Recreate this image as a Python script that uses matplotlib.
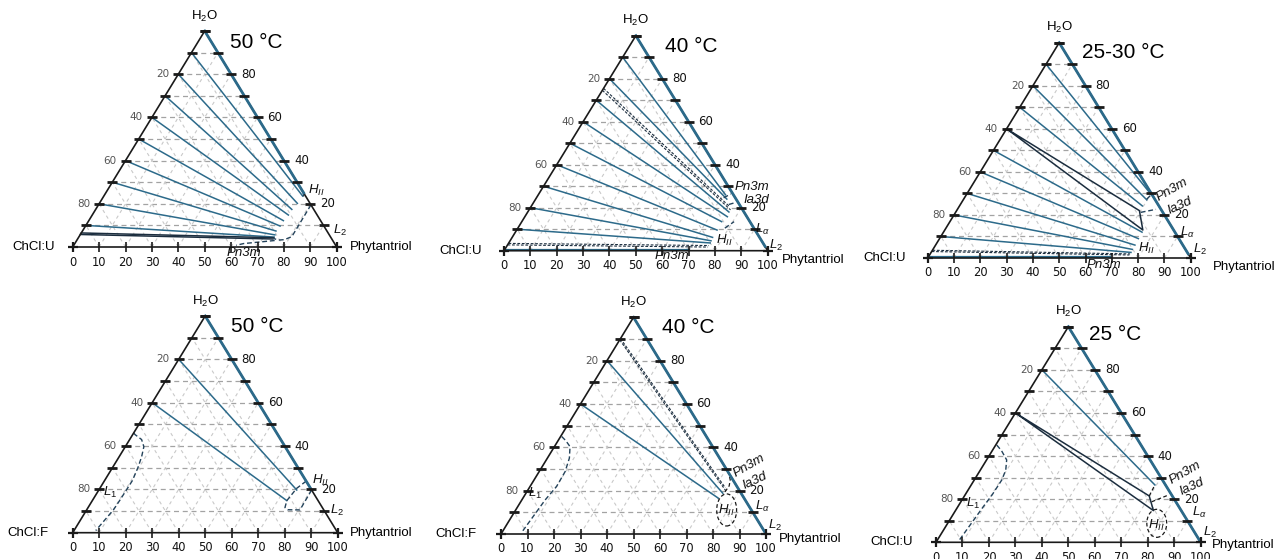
import matplotlib
matplotlib.use("Agg")
import matplotlib.pyplot as plt
from matplotlib.patches import Ellipse

plt.rcParams['mathtext.fontset'] = 'custom'
plt.rcParams['mathtext.rm'] = 'Liberation Sans'
plt.rcParams['mathtext.it'] = 'Liberation Sans:italic'
plt.rcParams['font.family'] = ['Liberation Sans', 'DejaVu Sans']

FIG_W, FIG_H = 1277, 559

# ---------------- data ----------------
grid_values = [10, 20, 30, 40, 50, 60, 70, 80, 90]
bottom_ticks = [0, 10, 20, 30, 40, 50, 60, 70, 80, 90, 100]
side_labels = [20, 40, 60, 80]

titles = ["50 °C", "40 °C", "25-30 °C", "50 °C", "40 °C", "25 °C"]
solvents = ["ChCl:U", "ChCl:U", "ChCl:U", "ChCl:F", "ChCl:F", "ChCl:U"]
top_label = "H$_2$O"
right_label = "Phytantriol"

# water content (%) down to which the water/phytantriol edge is a tie line
binary_edge_end_w = [25, 2, 2, 20, 1, 1]
# phytantriol (%) reached by the solvent/phytantriol tie line on the bottom edge
bottom_edge_end_p = [None, 70, 69, None, None, None]

# Panel A: ChCl:U, 50 °C
a_tie_start_w = [90, 80, 70, 60, 50, 40, 30, 20, 10]
a_tie_end_p = [75.3, 75.0, 74.3, 74.3, 73.7, 73.7, 73.3, 73.8, 74.0]
a_tie_end_w = [23.6, 20.2, 17.4, 14.8, 12.2, 9.7, 7.4, 5.6, 4.6]
a_dark_start_w = [6.5, 5.8]
a_dark_end_p = [74.0, 74.0]
a_dark_end_w = [4.3, 3.7]
a_hii_top_p = [75.3, 74.2]
a_hii_top_w = [23.6, 25.8]
a_hii_p = [80.5, 80.6, 78.5, 76.3, 74.0]
a_hii_w = [19.5, 4.8, 3.4, 3.2, 4.0]
a_cub_p = [75.0, 64.0, 61.5]
a_cub_w = [3.0, 1.6, 0.8]

# Panel B: ChCl:U, 40 °C
b_tie_start_w = [90, 80, 70, 60, 50, 40, 30, 20, 10]
b_tie_end_p = [71.0, 72.5, 76.3, 76.8, 75.8, 76.0, 76.0, 76.2, 76.4]
b_tie_end_w = [26.0, 24.0, 18.0, 15.8, 13.5, 9.6, 6.2, 4.6, 3.6]
b_dash_start_w = [75.5, 74.6, 3.4, 2.7]
b_dash_end_p = [75.3, 76.4, 76.5, 76.5]
b_dash_end_w = [20.5, 19.0, 2.4, 1.7]
b_bnd1_p = [71.0, 72.8]
b_bnd1_w = [24.6, 26.4]
b_bnd2_p = [74.5, 76.6]
b_bnd2_w = [21.5, 22.4]
b_bnd3_p = [78.5, 80.5]
b_bnd3_w = [10.5, 13.5]

# Panel C: ChCl:U, 25-30 °C
c_tie_start_w = [90, 80, 70, 50, 40, 30, 20, 10]
c_tie_end_p = [70.2, 69.8, 69.5, 75.5, 75.6, 75.8, 75.8, 76.0]
c_tie_end_w = [29.5, 27.0, 24.2, 12.0, 9.0, 6.0, 4.0, 2.6]
c_tri_p = [0.0, 69.5, 75.3, 0.0]
c_tri_w = [60.0, 22.0, 13.0, 60.0]
c_dash_start_w = [3.6, 3.0]
c_dash_end_p = [76.0, 76.0]
c_dash_end_w = [1.9, 1.4]
c_bnd1_p = [69.6, 70.3]
c_bnd1_w = [27.3, 29.4]
c_bnd2_p = [70.4, 75.5]
c_bnd2_w = [21.2, 22.6]

# Panel D: ChCl:F, 50 °C
d_tie_start_w = [80, 60]
d_tie_end_p = [74.7, 73.4]
d_tie_end_w = [19.7, 14.8]
d_hii_p = [76.2, 74.3, 73.4, 74.3, 75.8, 80.5, 80.3]
d_hii_w = [23.8, 20.5, 14.8, 11.6, 10.6, 10.5, 19.7]
d_l1_p = [0.0, 1.0, 4.5, 7.0, 8.5, 9.6, 10.5, 10.3, 10.1, 9.0, 8.2]
d_l1_w = [46.0, 45.2, 43.0, 39.7, 35.0, 30.0, 24.0, 15.0, 10.5, 5.0, 1.0]

# Panel E: ChCl:F, 40 °C
e_tie_start_w = [80, 60]
e_tie_end_p = [74.3, 73.8]
e_tie_end_w = [18.8, 16.5]
e_dash_start_w = [90.2, 89.6]
e_dash_end_p = [74.0, 75.0]
e_dash_end_w = [21.3, 19.8]
e_cub_p = [74.8, 75.0, 74.0, 72.2, 70.6]
e_cub_w = [19.5, 22.2, 25.0, 27.6, 29.4]
e_hii_center = (79.6, 11.1)
e_l1_p = [0.4, 3.0, 5.9, 8.3, 9.8, 10.0, 8.8, 7.5]
e_l1_w = [45.0, 43.0, 40.3, 35.0, 28.8, 22.0, 15.7, 1.5]

# Panel F: ChCl:U, 25 °C
f_tie_start_w = [80]
f_tie_end_p = [69.4]
f_tie_end_w = [26.6]
f_tri_p = [0.0, 69.8, 74.8, 0.0]
f_tri_w = [60.0, 21.5, 14.7, 60.0]
f_bnd1_p = [69.8, 69.4]
f_bnd1_w = [21.5, 26.6]
f_bnd2_p = [72.1, 76.8]
f_bnd2_w = [18.8, 21.9]
f_hii_center = (79.0, 8.8)
f_l1_p = [0.4, 3.5, 7.6, 9.6, 10.4, 10.2, 9.6, 8.3]
f_l1_w = [45.1, 42.5, 38.2, 33.5, 28.9, 22.0, 16.5, 1.0]

# ---------------- styling / layout ----------------
TEAL = "#2c6a8a"
DARK = "#1b2d3e"
BND = "#23425a"
EDGE = "#1a1a1a"
GRID_H = "#a3a3a3"
GRID_D = "#c9c9c9"

# pixel geometry: left x, right x, bottom y, apex y
PANEL_PX = [(72.7, 336.7, 247.0, 31.0), (504.0, 767.7, 250.7, 35.7),
            (927.7, 1190.7, 258.0, 42.7), (72.7, 337.7, 532.7, 316.0),
            (501.0, 766.0, 534.0, 317.3), (936.0, 1200.7, 542.3, 326.7)]
SOLV_OFF = [(-18, 0), (-22, 0), (-22, 0), (-24, 0), (-24, 0), (-23, 0)]
PHYT_OFF = [(13, 0), (14, -9), (22, -9), (12, 0), (13, -5), (11, -3)]
TITLE_OFF = [(25, -11), (29, -11), (23, -10), (26, -11), (29, -10), (21, -8)]


def X(p, w):
    return p + w / 2.0


def line(ax, ps, ws, **kw):
    ax.plot([X(p, w) for p, w in zip(ps, ws)], list(ws), clip_on=False, **kw)


fig = plt.figure(figsize=(FIG_W / 100, FIG_H / 100), dpi=100)
axes = []
for (x0, x1, yb, ya) in PANEL_PX:
    ax = fig.add_axes([x0 / FIG_W, 1 - yb / FIG_H, (x1 - x0) / FIG_W, (yb - ya) / FIG_H])
    ax.set_xlim(0, 100)
    ax.set_ylim(0, 100)
    ax.axis('off')
    axes.append(ax)


def base(ax, i):
    # grid
    for g in grid_values:
        line(ax, [0, 100 - g], [g, g], color=GRID_H, lw=0.9, ls=(0, (4, 3)), zorder=1)
        line(ax, [g, g], [0, 100 - g], color=GRID_D, lw=0.8, ls=(0, (3, 3)), zorder=1)
        line(ax, [100 - g, 0], [0, 100 - g], color=GRID_D, lw=0.8, ls=(0, (3, 3)), zorder=1)
    # triangle
    line(ax, [0, 100, 0, 0], [0, 0, 100, 0], color=EDGE, lw=1.2, zorder=4)
    # binary water/phytantriol tie line along the edge
    wend = binary_edge_end_w[i]
    line(ax, [0, 100 - wend], [100, wend], color=TEAL, lw=2.0, zorder=5)
    if bottom_edge_end_p[i] is not None:
        line(ax, [0, bottom_edge_end_p[i]], [0.4, 0.4], color=TEAL, lw=1.6, zorder=3)
    # ticks
    for g in grid_values + [100]:
        ax.plot([X(0, g)], [g], marker='_', ms=6.5, mew=2.0, color=EDGE, clip_on=False, zorder=6)
        ax.plot([X(100 - g, g)], [g], marker='_', ms=6.5, mew=2.0, color=EDGE, clip_on=False, zorder=6)
    for t in bottom_ticks:
        ax.plot([t], [0], marker='|', ms=6.5, mew=1.2, color=EDGE, clip_on=False, zorder=6)
    for t in [0, 100]:
        ax.plot([t], [0], marker='+', ms=7, mew=1.6, color=EDGE, clip_on=False, zorder=6)
    # tick labels
    for s in side_labels:
        ax.annotate(str(s), xy=(X(0, 100 - s), 100 - s), xytext=(-9, 0), textcoords='offset pixels',
                    ha='right', va='center', fontsize=7.5, color='#555555', family='DejaVu Sans')
        ax.annotate(str(s), xy=(X(100 - s, s), s), xytext=(10, 0), textcoords='offset pixels',
                    ha='left', va='center', fontsize=8.5, color='#111111', family='DejaVu Sans')
    for t in bottom_ticks:
        ax.annotate(str(t), xy=(t, 0), xytext=(0, -15), textcoords='offset pixels',
                    ha='center', va='center', fontsize=8.3, color='#111111', family='DejaVu Sans')
    ax.annotate(top_label, xy=(50, 100), xytext=(0, 15), textcoords='offset pixels',
                ha='center', va='center', fontsize=9.5)
    ax.annotate(solvents[i], xy=(0, 0), xytext=SOLV_OFF[i], textcoords='offset pixels',
                ha='right', va='center', fontsize=9.5)
    ax.annotate(right_label, xy=(100, 0), xytext=PHYT_OFF[i], textcoords='offset pixels',
                ha='left', va='center', fontsize=9.5)
    ax.annotate(titles[i], xy=(50, 100), xytext=TITLE_OFF[i], textcoords='offset pixels',
                ha='left', va='center', fontsize=15)


def ties(ax, start_w, end_p, end_w, **kw):
    for sw, ep, ew in zip(start_w, end_p, end_w):
        line(ax, [0, ep], [sw, ew], **kw)


for i, ax in enumerate(axes):
    base(ax, i)

tie_kw = dict(color=TEAL, lw=1.1, zorder=3)
dash_kw = dict(color=DARK, lw=0.8, ls=(0, (2.5, 1.5)), zorder=3)
bnd_kw = dict(color=BND, lw=1.0, ls=(0, (3.5, 2)), zorder=3)
dark_kw = dict(color=DARK, lw=1.1, zorder=3)

# Panel A
ax = axes[0]
ties(ax, a_tie_start_w, a_tie_end_p, a_tie_end_w, **tie_kw)
ties(ax, a_dark_start_w, a_dark_end_p, a_dark_end_w, **dark_kw)
line(ax, a_hii_top_p, a_hii_top_w, **bnd_kw)
line(ax, a_hii_p, a_hii_w, **bnd_kw)
line(ax, a_cub_p, a_cub_w, **bnd_kw)

# Panel B
ax = axes[1]
ties(ax, b_tie_start_w, b_tie_end_p, b_tie_end_w, **tie_kw)
ties(ax, b_dash_start_w, b_dash_end_p, b_dash_end_w, **dash_kw)
for bp, bw in [(b_bnd1_p, b_bnd1_w), (b_bnd2_p, b_bnd2_w), (b_bnd3_p, b_bnd3_w)]:
    line(ax, bp, bw, **bnd_kw)

# Panel C
ax = axes[2]
ties(ax, c_tie_start_w, c_tie_end_p, c_tie_end_w, **tie_kw)
line(ax, c_tri_p, c_tri_w, **dark_kw)
ties(ax, c_dash_start_w, c_dash_end_p, c_dash_end_w, **dash_kw)
line(ax, c_bnd1_p, c_bnd1_w, **bnd_kw)
line(ax, c_bnd2_p, c_bnd2_w, **bnd_kw)

# Panel D
ax = axes[3]
ties(ax, d_tie_start_w, d_tie_end_p, d_tie_end_w, **tie_kw)
line(ax, d_hii_p, d_hii_w, **bnd_kw)
line(ax, d_l1_p, d_l1_w, **bnd_kw)

# Panel E
ax = axes[4]
ties(ax, e_tie_start_w, e_tie_end_p, e_tie_end_w, **tie_kw)
ties(ax, e_dash_start_w, e_dash_end_p, e_dash_end_w, **dash_kw)
line(ax, e_cub_p, e_cub_w, color=EDGE, lw=0.9, ls=(0, (3, 2)), zorder=3)
line(ax, e_l1_p, e_l1_w, **bnd_kw)
cp, cw = e_hii_center
ax.add_patch(Ellipse((X(cp, cw), cw), 7.5, 14.8, fill=False, ec=EDGE, lw=0.9,
                     ls=(0, (3, 2)), clip_on=False, zorder=3))

# Panel F
ax = axes[5]
ties(ax, f_tie_start_w, f_tie_end_p, f_tie_end_w, **tie_kw)
line(ax, f_tri_p, f_tri_w, **dark_kw)
line(ax, f_bnd1_p, f_bnd1_w, color=EDGE, lw=0.9, ls=(0, (3, 2)), zorder=3)
line(ax, f_bnd2_p, f_bnd2_w, color=EDGE, lw=0.9, ls=(0, (3, 2)), zorder=3)
line(ax, f_l1_p, f_l1_w, **bnd_kw)
cp, cw = f_hii_center
ax.add_patch(Ellipse((X(cp, cw), cw), 7.5, 13.0, fill=False, ec=EDGE, lw=0.9,
                     ls=(0, (3, 2)), clip_on=False, zorder=3))

# ---------------- phase labels (figure pixel positions) ----------------
HII = r"$H_{II}$"
LA = r"$L_{\alpha}$"
L2 = r"$L_{2}$"
L1 = r"$L_{1}$"
phase_labels = [
    # panel A
    (308, 190, HII, 0, 'left'), (333, 230, L2, 0, 'left'), (227, 253, "Pn3m", 0, 'left'),
    # panel B
    (735, 187, "Pn3m", 0, 'left'), (743, 200, "Ia3d", 0, 'left'), (755, 229, LA, 0, 'left'),
    (769, 245, L2, 0, 'left'), (716, 240, HII, 0, 'left'), (655, 256, "Pn3m", 0, 'left'),
    # panel C
    (1172, 190, "Pn3m", 30, 'center'), (1180, 206, "Ia3d", 25, 'center'), (1180, 232, LA, 0, 'left'),
    (1193, 249, L2, 0, 'left'), (1138, 248, HII, 0, 'left'), (1087, 265, "Pn3m", 0, 'left'),
    # panel D
    (103, 492, L1, 0, 'left'), (312, 480, HII, 0, 'left'), (330, 510, L2, 0, 'left'),
    # panel E
    (749, 466, "Pn3m", 30, 'center'), (755, 481, "Ia3d", 25, 'center'), (755, 506, LA, 0, 'left'),
    (768, 525, L2, 0, 'left'), (726, 510, HII, 0, 'center'), (528, 493, L1, 0, 'left'),
    # panel F
    (1185, 473, "Pn3m", 30, 'center'), (1192, 487, "Ia3d", 25, 'center'), (1192, 512, LA, 0, 'left'),
    (1203, 532, L2, 0, 'left'), (1156, 525, HII, 0, 'center'), (966, 503, L1, 0, 'left'),
]
for px, py, txt, rot, ha in phase_labels:
    fig.text(px / FIG_W, 1 - py / FIG_H, txt, ha=ha, va='center', rotation=rot,
             fontsize=9.5, style='italic', color='#111111', rotation_mode='anchor')

fig.savefig("out.png", dpi=100)
